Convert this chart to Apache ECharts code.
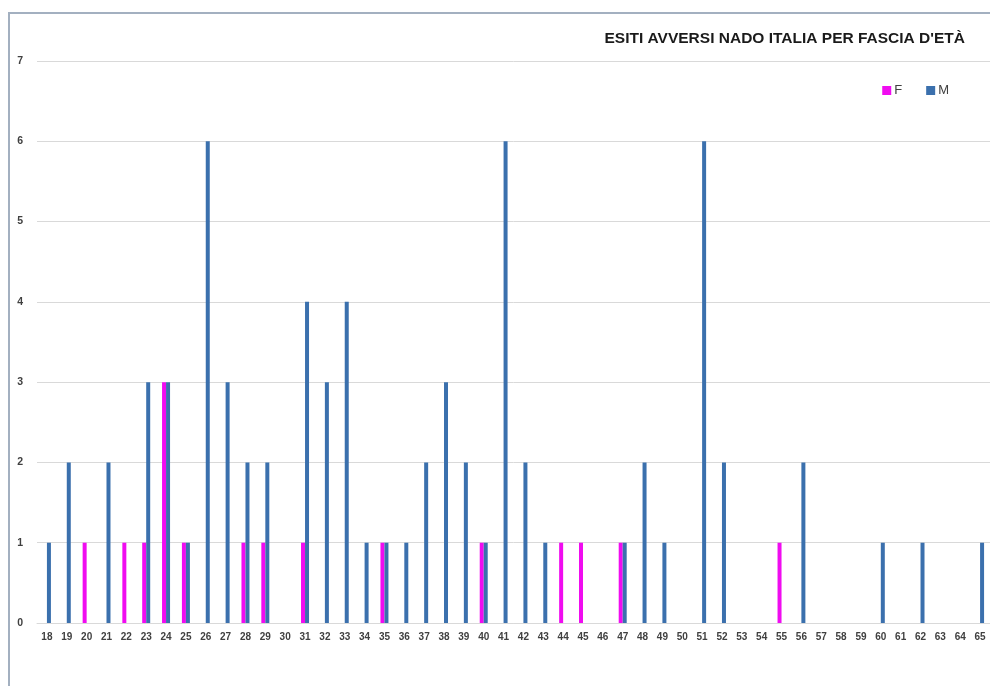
<!DOCTYPE html>
<html>
<head>
<meta charset="utf-8">
<script src="https://cdn.jsdelivr.net/npm/echarts@6/dist/echarts.min.js"></script>
<style>
  html, body { margin: 0; padding: 0; background: #fff; }
  #chart { width: 990px; height: 686px; }
</style>
</head>
<body>
<div id="chart"></div>
<script>
// Age categories (years)
const ages = ['18','19','20','21','22','23','24','25','26','27','28','29','30','31','32','33','34','35','36','37','38','39','40','41','42','43','44','45','46','47','48','49','50','51','52','53','54','55','56','57','58','59','60','61','62','63','64','65'];

// Adverse outcomes, women
const femmine = [0,0,1,0,1,1,3,1,0,0,1,1,0,1,0,0,0,1,0,0,0,0,1,0,0,0,1,1,0,1,0,0,0,0,0,0,0,1,0,0,0,0,0,0,0,0,0,0];

// Adverse outcomes, men
const maschi = [1,2,0,2,0,3,3,1,6,3,2,2,0,4,3,4,1,1,1,2,3,2,1,6,2,1,0,0,0,1,2,1,0,6,2,0,0,0,2,0,0,0,1,0,1,0,0,1];

const titolo = "ESITI AVVERSI NADO ITALIA PER FASCIA D'ETÀ";

const chart = echarts.init(document.getElementById('chart'));

chart.setOption({
  animation: false,
  backgroundColor: '#ffffff',
  title: {
    text: titolo,
    right: 20,
    top: 26,
    textStyle: {
      fontFamily: '"Liberation Sans Narrow", "Arial Narrow", "Liberation Sans", sans-serif',
      fontSize: 15.5,
      fontWeight: 'bold',
      color: '#1a1a1a'
    }
  },
  legend: {
    right: 36,
    top: 79,
    itemWidth: 9,
    itemHeight: 9,
    itemGap: 24,
    icon: 'rect',
    textStyle: {
      fontFamily: '"Liberation Sans", Arial, sans-serif',
      fontSize: 13,
      color: '#404040',
      padding: [0, 0, 0, -2]
    },
    data: ['F', 'M']
  },
  graphic: [
    {
      type: 'polyline',
      shape: { points: [[9, 686], [9, 13], [990, 13]] },
      style: { stroke: '#a3b0c0', lineWidth: 2, fill: null },
      silent: true
    }
  ],
  grid: {
    left: 37,
    right: 0,
    top: 61,
    bottom: 63
  },
  xAxis: {
    type: 'category',
    data: ages,
    axisLine: { show: true, lineStyle: { color: '#d9d9d9', width: 1 } },
    axisTick: { show: false },
    axisLabel: {
      interval: 0,
      margin: 9,
      fontFamily: '"Liberation Sans", Arial, sans-serif',
      fontSize: 10,
      fontWeight: 'bold',
      color: '#404040'
    }
  },
  yAxis: {
    type: 'value',
    min: 0,
    max: 7,
    interval: 1,
    axisLine: { show: false },
    axisTick: { show: false },
    splitLine: { lineStyle: { color: '#d9d9d9', width: 1 } },
    axisLabel: {
      margin: 14,
      fontFamily: '"Liberation Sans", Arial, sans-serif',
      fontSize: 10.5,
      fontWeight: 'bold',
      color: '#404040'
    }
  },
  series: [
    {
      name: 'F',
      type: 'bar',
      data: femmine,
      barWidth: 4,
      barGap: '0%',
      itemStyle: { color: '#f00cf0' }
    },
    {
      name: 'M',
      type: 'bar',
      data: maschi,
      barWidth: 4,
      barGap: '0%',
      itemStyle: { color: '#3b70ad' }
    }
  ]
});
</script>
</body>
</html>
